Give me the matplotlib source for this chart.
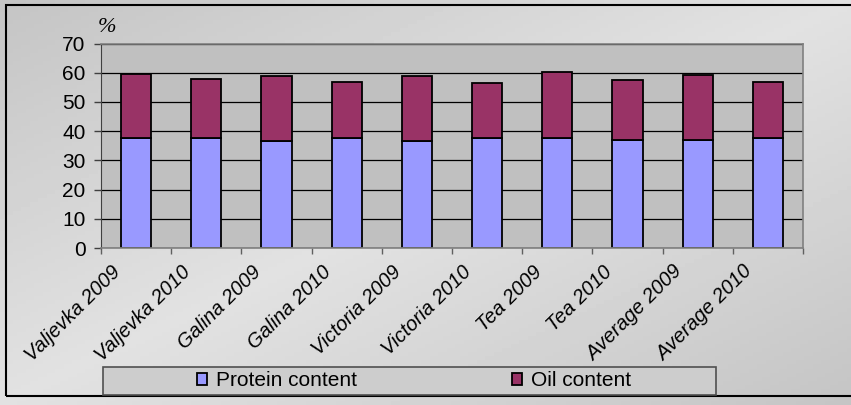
import numpy as np
import matplotlib.pyplot as plt
from matplotlib.patches import Rectangle

# ------------------------------
# Data
# ------------------------------
categories = ['Valjevka 2009', 'Valjevka 2010', 'Galina 2009', 'Galina 2010',
              'Victoria 2009', 'Victoria 2010', 'Tea 2009', 'Tea 2010',
              'Average 2009', 'Average 2010']
protein = [37.5, 37.5, 36.5, 37.5, 36.5, 37.5, 37.5, 36.9, 36.9, 37.5]
oil = [21.9, 20.3, 22.4, 19.4, 22.4, 19.0, 22.7, 20.5, 22.4, 19.4]
y_ticks = [0, 10, 20, 30, 40, 50, 60, 70]

plt.rcParams['font.family'] = ['Liberation Sans', 'DejaVu Sans']
W, H = 851, 405

fig = plt.figure(figsize=(W / 100, H / 100), dpi=100)

# ------------------------------
# Background: diagonal grey gradient + frame
# ------------------------------
bg = fig.add_axes([0, 0, 1, 1], zorder=-10)
xx, yy = np.meshgrid(np.linspace(0, 1, 200), np.linspace(0, 1, 100))
v = 1 - np.abs(xx + yy - 1)
dark, light = 0.77, 0.885
img = dark + (light - dark) * v
bg.imshow(img, cmap='gray', vmin=0, vmax=1, aspect='auto', extent=[0, 1, 0, 1])
bg.set_xlim(0, 1)
bg.set_ylim(0, 1)
bg.axis('off')
bg.add_patch(Rectangle((6 / W, 1 - 396 / H), 1.2, (396 - 5) / H, fill=False,
                       ec='black', lw=1.5, transform=bg.transAxes, clip_on=False))
# legend box
bg.add_patch(Rectangle((103 / W, 1 - 395 / H), 613 / W, 28 / H,
                       fc='#cdcdcd', ec='#505050', lw=1.2, transform=bg.transAxes))

# ------------------------------
# Main chart
# ------------------------------
ax = fig.add_axes([101 / W, 1 - 248 / H, 702 / W, (248 - 43.5) / H])
ax.set_facecolor('#c0c0c0')
x = np.arange(len(categories))
b1 = ax.bar(x, protein, 0.43, color='#9999ff', edgecolor='black', lw=1.3)
b2 = ax.bar(x, oil, 0.43, bottom=protein, color='#993366', edgecolor='black', lw=1.3)

ax.set_xlim(-0.5, len(categories) - 0.5)
ax.set_ylim(0, 70)
ax.set_yticks(y_ticks)
ax.yaxis.grid(True, color='black', lw=0.9)
ax.set_axisbelow(True)

for s in ['top', 'right', 'bottom']:
    ax.spines[s].set_color('#808080')
    ax.spines[s].set_linewidth(1.2)
ax.spines['left'].set_color('#404040')

ax.tick_params(axis='y', length=5, width=1, color='#404040', pad=6, labelsize=15)
ax.set_xticks(np.arange(len(categories) + 1) - 0.5)
ax.set_xticklabels([])
ax.tick_params(axis='x', which='major', length=4, width=1, color='#606060')
ax.set_xticks(x - 0.36, categories, minor=True)
ax.tick_params(axis='x', which='minor', length=0, pad=10, labelsize=14.5)
for lab in ax.get_xticklabels(minor=True):
    lab.set_rotation(45)
    lab.set_ha('right')
    lab.set_rotation_mode('anchor')
    lab.set_style('italic')

fig.text(107 / W, 1 - 27 / H, '%', fontsize=16, style='italic',
         family='Liberation Serif', ha='center', va='center')

fig.legend([b1, b2], ['Protein content', 'Oil content'], loc='center',
           bbox_to_anchor=(414 / W, 1 - 381 / H), ncol=2, frameon=False,
           columnspacing=7.4, handlelength=0.5, handleheight=0.5,
           handletextpad=0.45, fontsize=15)

fig.savefig('out.png', dpi=100)
